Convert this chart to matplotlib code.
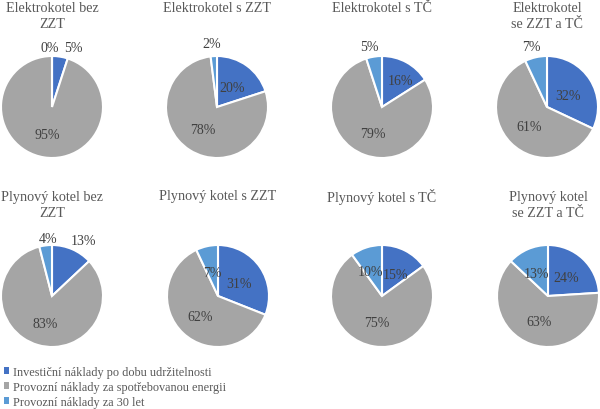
import matplotlib.pyplot as plt
from matplotlib.patches import Patch

plt.rcParams['font.family'] = ['Liberation Serif', 'DejaVu Serif']

# chart titles (top row then bottom row)
titles = ['Elektrokotel bez\nZZT', 'Elektrokotel s ZZT', 'Elektrokotel s TČ', 'Elektrokotel\nse ZZT a TČ',
          'Plynový kotel bez\nZZT', 'Plynový kotel s ZZT', 'Plynový kotel s TČ', 'Plynový kotel\nse ZZT a TČ']

# shares in % : investment, energy, 30 years
investicni = [5, 20, 16, 32, 13, 31, 15, 24]
provozni_energie = [95, 78, 79, 61, 83, 62, 75, 63]
provozni_30 = [0, 2, 5, 7, 4, 7, 10, 13]

series_names = ['Investiční náklady po dobu udržitelnosti',
                'Provozní náklady za spotřebovanou energii',
                'Provozní náklady za 30 let']
colors = ['#4472C4', '#A5A5A5', '#5B9BD5']

# layout: pie centres in pixels and label offsets (in radius units)
W, H = 600, 410
R = 51
centers = [(52, 108), (217, 108), (382, 108), (547, 108),
           (52, 297), (218, 297), (382, 297), (548, 297)]
label_pos = [
    [(0.41, 1.16), (-0.10, -0.53), (-0.04, 1.16)],
    [(0.29, 0.39), (-0.27, -0.45), (-0.10, 1.24)],
    [(0.37, 0.51), (-0.18, -0.51), (-0.25, 1.18)],
    [(0.42, 0.22), (-0.36, -0.39), (-0.30, 1.18)],
    [(0.62, 1.08), (-0.13, -0.53), (-0.07, 1.12)],
    [(0.41, 0.25), (-0.35, -0.40), (-0.12, 0.47)],
    [(0.26, 0.42), (-0.10, -0.52), (-0.23, 0.48)],
    [(0.35, 0.36), (-0.18, -0.50), (-0.22, 0.44)],
]

fig = plt.figure(figsize=(6, 4.1), dpi=100)

for i, title in enumerate(titles):
    cx, cy = centers[i]
    ax = fig.add_axes([(cx - R) / W, (H - cy - R) / H, 2 * R / W, 2 * R / H])
    vals = [investicni[i], provozni_energie[i], provozni_30[i]]
    ax.pie(vals, colors=colors, startangle=90, counterclock=False, radius=1,
           wedgeprops=dict(edgecolor='white', linewidth=1.5))
    ax.set_xlim(-1, 1)
    ax.set_ylim(-1, 1)
    for v, (lx, ly) in zip(vals, label_pos[i]):
        ax.text(lx, ly, f'{v}%', ha='center', va='center', fontsize=10,
                color='#404040', clip_on=False)
    # first title line centre: 8 px (top row), 197 px (bottom row)
    ty = 8 if i < 4 else 197
    if '\n' in title:
        ty += 8.5
    fig.text(cx / W, (H - ty) / H, title, ha='center', va='center', fontsize=10.2,
             color='#595959', linespacing=1.32)

handles = [Patch(facecolor=c, edgecolor='none') for c in colors]
fig.legend(handles, series_names, loc='lower left', bbox_to_anchor=(-0.012, -0.024),
           frameon=False, fontsize=8.8, handlelength=0.45, handleheight=0.45,
           handletextpad=0.3, labelspacing=0.24, labelcolor='#595959')

fig.savefig('out.png', dpi=100)
